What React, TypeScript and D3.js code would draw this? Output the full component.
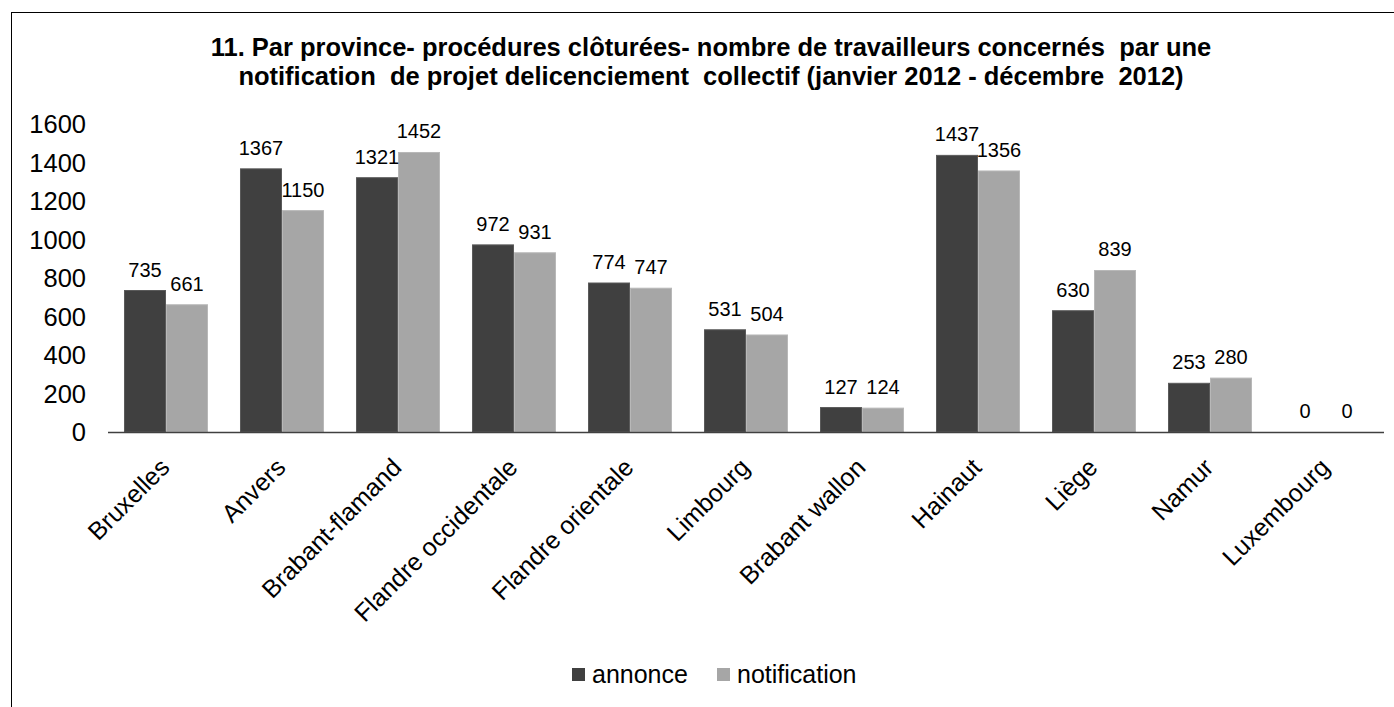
import * as React from "react";
import * as d3 from "d3";

const provinces = [
  "Bruxelles",
  "Anvers",
  "Brabant-flamand",
  "Flandre occidentale",
  "Flandre orientale",
  "Limbourg",
  "Brabant wallon",
  "Hainaut",
  "Liège",
  "Namur",
  "Luxembourg",
];
const annonce = [735, 1367, 1321, 972, 774, 531, 127, 1437, 630, 253, 0];
const notification = [661, 1150, 1452, 931, 747, 504, 124, 1356, 839, 280, 0];
const seriesNames = ["annonce", "notification"];
const seriesColors = ["#404040", "#a6a6a6"];
const seriesStroke = ["#5a5a5a", "#b8b8b8"];
const yTicks = [0, 200, 400, 600, 800, 1000, 1200, 1400, 1600];
const titleLines = [
  "11. Par province- procédures clôturées- nombre de travailleurs concernés  par une",
  "notification  de projet delicenciement  collectif (janvier 2012 - décembre  2012)",
];

const font = "'Liberation Sans', Arial, sans-serif";

const Chart = () => {
  const svgRef = React.useRef<SVGSVGElement>(null);

  React.useEffect(() => {
    const width = 1394;
    const height = 707;
    const plot = { left: 108, right: 1384, top: 124, bottom: 432 };

    const svg = d3.select(svgRef.current);
    svg.selectAll("*").remove();
    svg.attr("width", width).attr("height", height);

    svg
      .append("rect")
      .attr("x", 11.5)
      .attr("y", 12.5)
      .attr("width", width)
      .attr("height", height)
      .attr("fill", "#fff")
      .attr("stroke", "#000")
      .attr("stroke-width", 1);

    // title
    svg
      .append("g")
      .selectAll("text")
      .data(titleLines)
      .enter()
      .append("text")
      .attr("x", 711)
      .attr("y", (d, i) => 56 + i * 29)
      .attr("text-anchor", "middle")
      .attr("font-family", font)
      .attr("font-weight", "bold")
      .attr("font-size", "25.5px")
      .attr("fill", "#000")
      .style("white-space", "pre")
      .text((d) => d);

    const x0 = d3
      .scaleBand()
      .domain(provinces)
      .range([plot.left, plot.right])
      .paddingInner(0.2759)
      .paddingOuter(0.1379);

    const x1 = d3
      .scaleBand()
      .domain(seriesNames)
      .range([0, x0.bandwidth()]);

    const y = d3
      .scaleLinear()
      .domain([0, 1600])
      .range([plot.bottom, plot.top]);

    // y tick labels
    svg
      .append("g")
      .selectAll("text")
      .data(yTicks)
      .enter()
      .append("text")
      .attr("x", 86)
      .attr("y", (d) => y(d) + 9)
      .attr("text-anchor", "end")
      .attr("font-family", font)
      .attr("font-size", "25.5px")
      .attr("fill", "#000")
      .text((d) => d);

    const rows = provinces.map((p, i) => ({
      province: p,
      values: [annonce[i], notification[i]],
    }));

    const groups = svg
      .append("g")
      .selectAll("g")
      .data(rows)
      .enter()
      .append("g")
      .attr("transform", (d) => `translate(${x0(d.province)},0)`);

    groups
      .selectAll("rect")
      .data((d) => d.values.map((v, k) => ({ v, k })))
      .enter()
      .filter((d) => d.v > 0)
      .append("rect")
      .attr("x", (d) => x1(seriesNames[d.k]) + 0.5)
      .attr("y", (d) => y(d.v))
      .attr("width", x1.bandwidth() - 1)
      .attr("height", (d) => y(0) - y(d.v))
      .attr("fill", (d) => seriesColors[d.k])
      .attr("stroke", (d) => seriesStroke[d.k])
      .attr("stroke-width", 1);

    groups
      .selectAll("text")
      .data((d) => d.values.map((v, k) => ({ v, k })))
      .enter()
      .append("text")
      .attr("x", (d) => x1(seriesNames[d.k]) + x1.bandwidth() / 2)
      .attr("y", (d) => y(d.v) - 14)
      .attr("text-anchor", "middle")
      .attr("font-family", font)
      .attr("font-size", "20px")
      .attr("fill", "#000")
      .text((d) => d.v);

    // x axis line
    svg
      .append("line")
      .attr("x1", plot.left)
      .attr("x2", plot.right)
      .attr("y1", plot.bottom + 0.5)
      .attr("y2", plot.bottom + 0.5)
      .attr("stroke", "#404040")
      .attr("stroke-width", 1.5);

    // x labels, rotated
    svg
      .append("g")
      .selectAll("text")
      .data(provinces)
      .enter()
      .append("text")
      .attr("text-anchor", "end")
      .attr(
        "transform",
        (d) => `translate(${x0(d) + x0.bandwidth() / 2 + 5},${plot.bottom + 37}) rotate(-45)`
      )
      .attr("font-family", font)
      .attr("font-size", "25px")
      .attr("fill", "#000")
      .text((d) => d);

    // legend
    const legendItems = [
      { name: seriesNames[0], x: 572 },
      { name: seriesNames[1], x: 717 },
    ];
    const lg = svg
      .append("g")
      .selectAll("g")
      .data(legendItems)
      .enter()
      .append("g")
      .attr("transform", (d) => `translate(${d.x},668)`);
    lg.append("rect")
      .attr("width", 13)
      .attr("height", 13)
      .attr("fill", (d, i) => seriesColors[i]);
    lg.append("text")
      .attr("x", 20)
      .attr("y", 15)
      .attr("font-family", font)
      .attr("font-size", "25px")
      .attr("fill", "#000")
      .text((d) => d.name);
  }, []);

  return (
    <svg
      ref={svgRef}
      style={{ position: "absolute", left: 0, top: 0, display: "block" }}
    />
  );
};

export default function App() {
  return <Chart />;
}
